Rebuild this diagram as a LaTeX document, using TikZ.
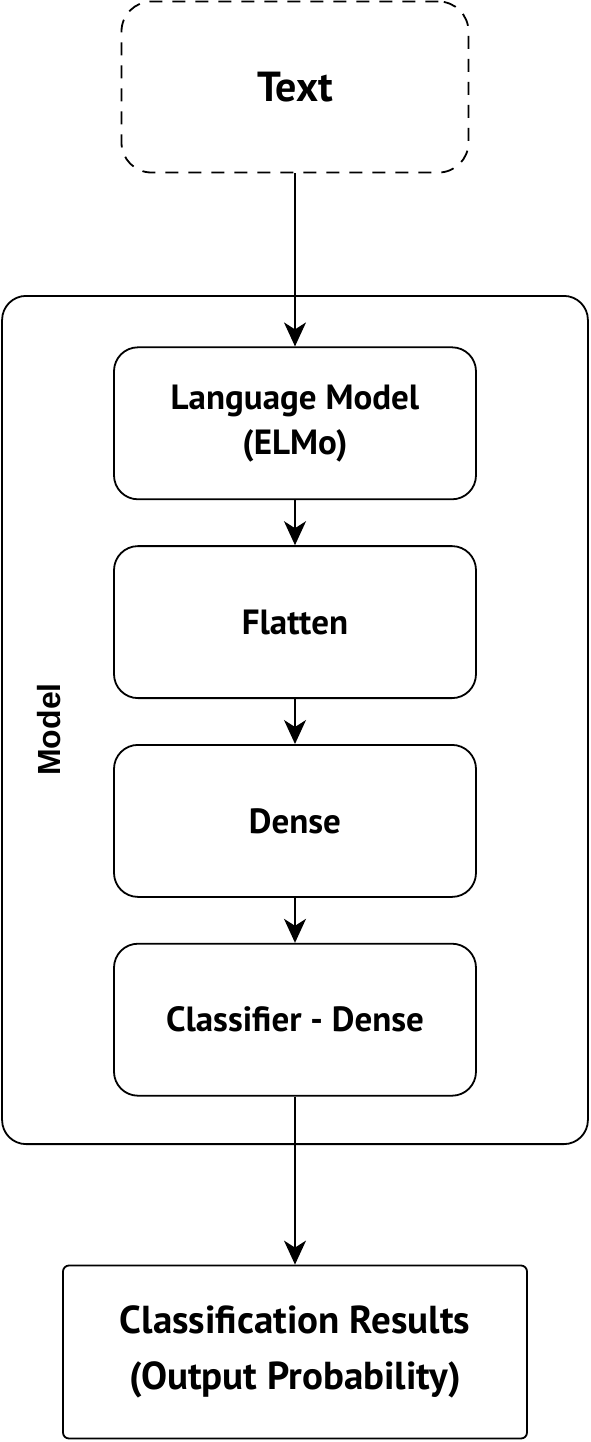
\documentclass[tikz,border=0pt]{standalone}
\usepackage{fontspec}
\setmainfont{PT Sans}
\newfontfamily\labelfont{Liberation Sans}
\usepackage{tikz}
\usetikzlibrary{arrows.meta,positioning,shapes,fit}

\begin{document}
\begin{tikzpicture}[
    node distance=22.5pt,
    inbox/.style={rectangle, draw, line width=0.9pt, rounded corners=12pt, align=center, minimum width=181pt, minimum height=76pt, font=\fontsize{17.5}{22.5}\selectfont\bfseries},
    srcbox/.style={rectangle, draw, dashed, dash pattern=on 6.5pt off 5pt, line width=0.9pt, rounded corners=15pt, align=center, minimum width=173.5pt, minimum height=85.5pt, font=\fontsize{21}{25}\selectfont\bfseries},
    outbox/.style={rectangle, draw, line width=0.9pt, rounded corners=3pt, align=center, minimum width=232pt, minimum height=86.5pt, font=\fontsize{19.5}{28}\selectfont\bfseries},
    arrow/.style={-{Stealth[length=12pt,width=11pt,inset=3.5pt]}, line width=0.8pt}
  ]

    \useasboundingbox (-147.5pt,43.5pt) rectangle (147.5pt,-677.5pt);

    \node[srcbox] (txt) at (0,0) {Text};

    \node[inbox, below=86.5pt of txt] (lm) {Language Model\\(ELMo)};
    \node[inbox, below=of lm] (flat) {Flatten};
    \node[inbox, below=of flat] (dense) {Dense};
    \node[inbox, below=of dense] (cls) {Classifier - Dense};

    % model frame around the layers
    \node[draw, line width=0.9pt, rounded corners=12pt, inner xsep=55.5pt, inner ysep=24.5pt, yshift=0.75pt, fit=(lm)(cls)] (model) {};
    \node[rotate=90, font=\labelfont\fontsize{16}{19}\selectfont\bfseries] (mlabel) at ([xshift=24pt,yshift=-4.75pt]model.west) {Model};

    \node[outbox, below=84pt of cls] (res) {Classification Results\\(Output Probability)};

    \draw[arrow] (txt.south) -- (lm.north);
    \draw[arrow] (lm.south) -- (flat.north);
    \draw[arrow] (flat.south) -- (dense.north);
    \draw[arrow] (dense.south) -- (cls.north);
    \draw[arrow] (cls.south) -- (res.north);

\end{tikzpicture}
\end{document}
